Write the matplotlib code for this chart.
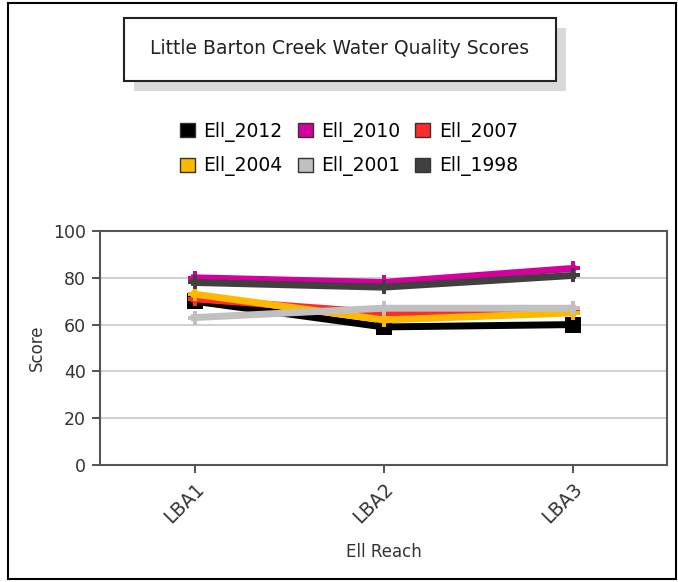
import numpy as np
import matplotlib.pyplot as plt
from matplotlib.patches import Rectangle, Patch

# Data
reaches = ['LBA1', 'LBA2', 'LBA3']
years = ['Ell_2012', 'Ell_2010', 'Ell_2007', 'Ell_2004', 'Ell_2001', 'Ell_1998']
ell_2012 = [70, 59, 60]
ell_2010 = [80, 78, 84]
ell_2007 = [71, 65, 66]
ell_2004 = [73, 62, 65]
ell_2001 = [63, 67, 67]
ell_1998 = [78, 76, 81]
series = [ell_2012, ell_2010, ell_2007, ell_2004, ell_2001, ell_1998]
colors = ['#000000', '#D4009E', '#FF2A2A', '#FFB800', '#C0C0C0', '#404040']
markers = ['s', 'P', 'P', 'P', 'P', 'P']

W, H = 678, 582
plt.rcParams['font.family'] = ['DejaVu Sans']
fig = plt.figure(figsize=(W / 100, H / 100), dpi=100)

# outer border
fig.patches.append(Rectangle((8 / W, 3 / H), 668 / W, 576 / H, transform=fig.transFigure,
                             fill=False, edgecolor='black', linewidth=1.5))

ax = fig.add_axes([100 / W, 1 - 465 / H, 567 / W, 234 / H])
x = np.arange(len(reaches))
for vals, c, m, lab in zip(series, colors, markers, years):
    ax.plot(x, vals, color=c, linewidth=5, marker=m, markersize=11 if m == 's' else 10,
            markeredgewidth=0, label=lab, solid_joinstyle='miter')

ax.set_xlim(-0.5, 2.5)
ax.set_ylim(0, 100)
ax.set_yticks([0, 20, 40, 60, 80, 100])
ax.set_xticks(x)
ax.set_xticklabels(reaches, rotation=45, ha='right', rotation_mode='anchor')
ax.yaxis.grid(True, color='#c8c8c8', linewidth=1.2)
ax.set_axisbelow(True)
for s in ax.spines.values():
    s.set_color('#555555')
    s.set_linewidth(1.5)
ax.tick_params(length=6, width=1.3, color='#444444', labelsize=12.5, labelcolor='#333333', pad=4)
ax.tick_params(axis='x', labelsize=13.5)
ax.set_ylabel('Score', fontsize=12, color='#333333', labelpad=5)
ax.set_xlabel('Ell Reach', fontsize=12, color='#333333', labelpad=12)

# title box with shadow
fig.patches.append(Rectangle((134 / W, 1 - 91 / H), 432 / W, 63 / H, transform=fig.transFigure,
                             facecolor='#d9d9d9', edgecolor='none'))
fig.patches.append(Rectangle((124 / W, 1 - 81 / H), 432 / W, 63 / H, transform=fig.transFigure,
                             facecolor='white', edgecolor='#222222', linewidth=1.5))
fig.text(340 / W, 1 - 49 / H, 'Little Barton Creek Water Quality Scores', ha='center', va='center',
         fontsize=13.5, color='#222222')

# legend in row-major order (matplotlib fills columns first)
handles = [Patch(facecolor=c, edgecolor='#333333', linewidth=1) for c in colors]
order = [0, 3, 1, 4, 2, 5]
fig.legend([handles[i] for i in order], [years[i] for i in order], loc='center',
           bbox_to_anchor=(349 / W, 1 - 149 / H), ncol=3, frameon=False, fontsize=13.5,
           handlelength=0.8, handleheight=0.8, handletextpad=0.45, columnspacing=0.8,
           labelspacing=0.8)

fig.savefig('out.png', dpi=100)
